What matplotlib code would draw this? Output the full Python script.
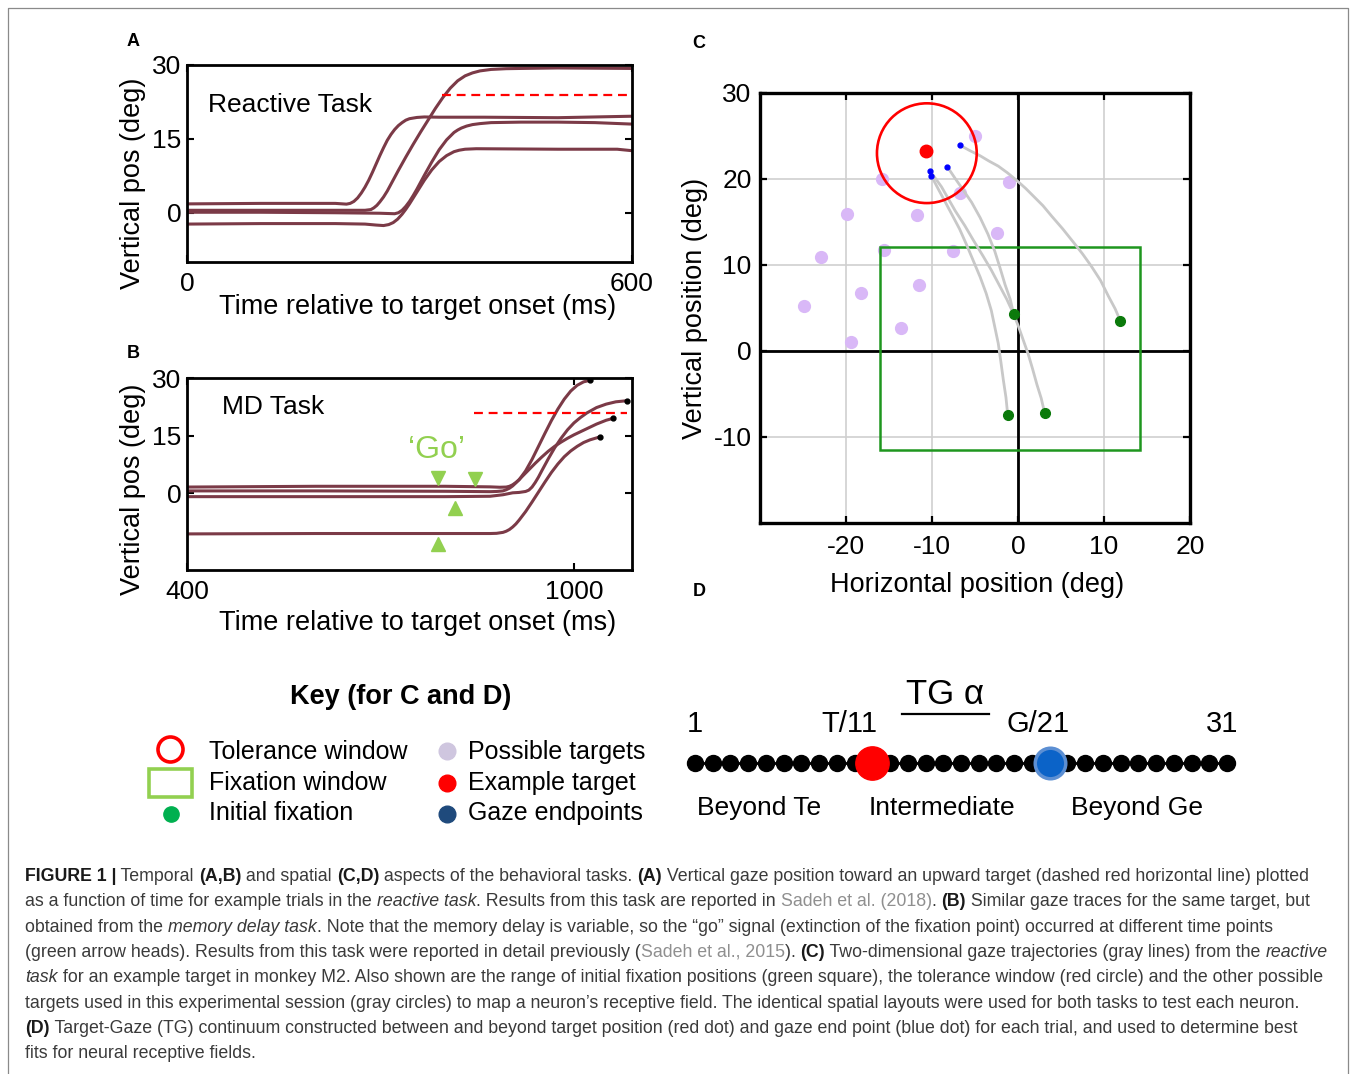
import numpy as np
import matplotlib
matplotlib.use("Agg")
import matplotlib.pyplot as plt
from matplotlib.patches import Circle, Rectangle
from matplotlib.font_manager import FontProperties

plt.rcParams['font.family'] = ['Liberation Sans', 'DejaVu Sans']
plt.rcParams['axes.unicode_minus'] = False

W, H = 1354, 1074

# ---------------- Panel A data (time ms, vertical deg) ----------------
A_t1 = [0, 100, 200, 210, 215, 220, 225, 230, 235, 240, 245, 250, 255, 260, 265, 270, 275, 280, 285, 290, 295, 300, 310, 320, 340, 400, 500, 600]
A_y1 = [1.8, 1.9, 1.9, 1.8, 1.75, 1.9, 2.3, 3.0, 4.0, 5.2, 6.6, 8.2, 9.9, 11.6, 13.2, 14.7, 15.9, 16.9, 17.7, 18.3, 18.8, 19.1, 19.35, 19.45, 19.4, 19.4, 19.3, 19.6]
A_t2 = [0, 100, 200, 240, 248, 252, 256, 260, 265, 270, 275, 285, 295, 305, 315, 325, 335, 345, 355, 365, 375, 385, 395, 410, 430, 450, 500, 600]
A_y2 = [0.5, 0.5, 0.5, 0.5, 0.65, 1.0, 1.5, 2.2, 3.2, 4.4, 5.8, 8.6, 11.3, 13.9, 16.4, 18.8, 21.2, 23.4, 25.3, 26.8, 27.8, 28.4, 28.8, 29.1, 29.25, 29.3, 29.4, 29.3]
A_t3 = [0, 100, 200, 260, 270, 280, 285, 290, 295, 300, 305, 310, 320, 330, 340, 350, 360, 365, 370, 377, 385, 395, 410, 450, 500, 550, 600]
A_y3 = [0.1, 0.1, 0.0, -0.1, -0.15, -0.2, 0.0, 0.5, 1.3, 2.3, 3.5, 4.8, 7.6, 10.3, 12.8, 14.8, 16.3, 16.8, 17.2, 17.6, 17.9, 18.1, 18.3, 18.4, 18.4, 18.3, 18.0]
A_t4 = [0, 100, 200, 240, 255, 265, 272, 278, 284, 290, 295, 300, 310, 320, 330, 340, 350, 355, 360, 367, 375, 390, 500, 580, 600]
A_y4 = [-2.3, -2.2, -2.2, -2.3, -2.5, -2.6, -2.4, -2.0, -1.3, -0.3, 0.7, 1.8, 4.2, 6.6, 8.7, 10.4, 11.6, 12.0, 12.4, 12.7, 12.9, 13.0, 12.9, 12.9, 12.6]
A_target_y = 24.0
A_target_t = [344, 600]

# ---------------- Panel B data ----------------
B_t1 = [400, 600, 800, 870, 885, 895, 900, 905, 910, 915, 925, 935, 945, 955, 965, 975, 985, 995, 1005, 1015, 1025]
B_y1 = [1.6, 1.8, 1.8, 1.65, 1.55, 1.6, 1.8, 2.2, 2.8, 3.5, 5.8, 8.8, 12.2, 15.6, 18.9, 21.9, 24.5, 26.6, 28.1, 29.0, 29.4]
B_t2 = [400, 600, 800, 870, 880, 890, 895, 900, 905, 910, 920, 930, 940, 950, 960, 970, 980, 990, 1000, 1010, 1020, 1035, 1050, 1061]
B_y2 = [0.6, 0.6, 0.5, 0.4, 0.45, 0.6, 0.9, 1.3, 1.9, 2.7, 4.4, 6.1, 7.8, 9.4, 10.9, 12.2, 13.3, 14.3, 15.2, 16.0, 16.8, 18.0, 19.0, 19.5]
B_t3 = [400, 600, 800, 870, 890, 905, 915, 925, 930, 935, 940, 945, 950, 960, 970, 980, 990, 1000, 1010, 1020, 1035, 1050, 1065, 1083]
B_y3 = [-0.9, -0.9, -0.9, -0.8, -0.4, 0.1, 0.2, 0.45, 0.8, 1.6, 2.8, 4.2, 5.8, 8.9, 11.8, 14.3, 16.5, 18.3, 19.7, 20.9, 22.3, 23.2, 23.8, 24.1]
B_t4 = [400, 600, 800, 870, 880, 890, 895, 900, 905, 910, 915, 925, 935, 945, 955, 965, 975, 985, 995, 1005, 1015, 1025, 1041]
B_y4 = [-10.6, -10.5, -10.5, -10.5, -10.45, -10.2, -9.9, -9.45, -8.8, -8.0, -7.0, -4.8, -2.3, 0.3, 2.9, 5.4, 7.6, 9.5, 11.0, 12.2, 13.2, 13.9, 14.7]
B_target_y = 21.0
B_target_t = [845, 1083]
go_t = [789, 847, 815, 789]
go_y = [4.0, 3.7, -3.8, -13.3]
go_marker = ['v', 'v', '^', '^']

# ---------------- Panel C data (deg) ----------------
targets_x = [-5.0, -1.0, -15.8, -6.7, -19.9, -11.7, -2.5, -22.9, -15.6, -7.6, -11.5, -18.3, -24.9, -13.6, -19.4]
targets_y = [25.0, 19.6, 20.0, 18.4, 15.9, 15.8, 13.7, 10.9, 11.7, 11.6, 7.7, 6.8, 5.2, 2.7, 1.0]
example_target = (-10.7, 23.2)
tol_center = (-10.6, 23.0)
tol_radius = 5.8
fix_window_x = (-16.0, 14.2)
fix_window_y = (-11.5, 12.1)
traj1_x = [11.9, 11.3, 10.5, 9.6, 8.5, 7.5, 6.4, 5.2, 3.9, 2.9, 1.8, 0.9, 0.0, -1.2, -2.3, -3.4, -4.4, -5.6, -6.7]
traj1_y = [3.5, 4.9, 6.4, 8.2, 9.9, 11.3, 12.7, 14.2, 15.7, 16.9, 18.0, 18.9, 19.7, 20.7, 21.5, 22.1, 22.7, 23.3, 23.9]
traj2_x = [-0.5, -0.9, -1.5, -2.1, -2.7, -3.5, -4.4, -5.4, -6.5, -7.4, -8.2]
traj2_y = [4.25, 6.0, 7.7, 9.7, 11.6, 13.6, 15.5, 17.3, 18.9, 20.2, 21.4]
traj3_x = [-1.2, -1.4, -1.7, -2.0, -2.3, -2.7, -3.1, -3.7, -4.4, -5.2, -6.0, -6.8, -7.7, -8.5, -9.2, -10.1]
traj3_y = [-7.4, -5.4, -3.4, -1.2, 0.9, 2.8, 4.7, 6.7, 8.6, 10.5, 12.4, 14.2, 15.9, 17.4, 18.7, 20.4]
traj4_x = [3.1, 2.7, 2.2, 1.7, 1.2, 0.6, 0.0, -0.6, -1.3, -2.2, -3.1, -4.1, -5.2, -6.2, -7.3, -8.1, -8.9, -10.2]
traj4_y = [-7.2, -5.5, -3.9, -2.1, -0.4, 1.3, 3.0, 4.5, 6.0, 7.7, 9.4, 11.1, 12.9, 14.6, 16.3, 17.7, 19.1, 20.9]
gaze_x = [-6.7, -8.2, -10.2, -10.1]
gaze_y = [23.9, 21.4, 20.9, 20.4]
fix_x = [11.9, -0.5, -1.2, 3.1]
fix_y = [3.5, 4.25, -7.4, -7.2]

# ---------------- Panel D data ----------------
D_pos = list(range(1, 32))
D_target = 11
D_gaze = 21
D_labels = {1: "1", 11: "T/11", 21: "G/21", 31: "31"}

# ---------------- Caption ----------------
caption = [
    [("FIGURE 1 |", 'b'), (" Temporal ", 'n'), ("(A,B)", 'b'), (" and spatial ", 'n'), ("(C,D)", 'b'),
     (" aspects of the behavioral tasks. ", 'n'), ("(A)", 'b'),
     (" Vertical gaze position toward an upward target (dashed red horizontal line) plotted", 'n')],
    [("as a function of time for example trials in the ", 'n'), ("reactive task", 'i'),
     (". Results from this task are reported in ", 'n'), ("Sadeh et al. (2018)", 'g'), (". ", 'n'),
     ("(B)", 'b'), (" Similar gaze traces for the same target, but", 'n')],
    [("obtained from the ", 'n'), ("memory delay task", 'i'),
     (". Note that the memory delay is variable, so the \u201cgo\u201d signal (extinction of the fixation point) occurred at different time points", 'n')],
    [("(green arrow heads). Results from this task were reported in detail previously (", 'n'),
     ("Sadeh et al., 2015", 'g'), ("). ", 'n'), ("(C)", 'b'),
     (" Two-dimensional gaze trajectories (gray lines) from the ", 'n'), ("reactive", 'i')],
    [("task", 'i'), (" for an example target in monkey M2. Also shown are the range of initial fixation positions (green square), the tolerance window (red circle) and the other possible", 'n')],
    [("targets used in this experimental session (gray circles) to map a neuron\u2019s receptive field. The identical spatial layouts were used for both tasks to test each neuron.", 'n')],
    [("(D)", 'b'), (" Target-Gaze (TG) continuum constructed between and beyond target position (red dot) and gaze end point (blue dot) for each trial, and used to determine best", 'n')],
    [("fits for neural receptive fields.", 'n')],
]

TRACE = '#7b3a47'
GO_GREEN = '#92d050'

fig = plt.figure(figsize=(W / 100, H / 100), dpi=100)


def px_ax(l, t, r, b):
    return fig.add_axes([l / W, 1 - b / H, (r - l) / W, (b - t) / H])


def style_ab(ax):
    for s in ax.spines.values():
        s.set_linewidth(2.0)
    ax.tick_params(direction='in', length=5, width=1.5, top=True, right=True, labelsize=19)
    ax.tick_params(axis='x', pad=7)
    ax.tick_params(axis='y', pad=4)


# ---------- Panel A ----------
axA = px_ax(187, 65, 632, 262)
for t, y in [(A_t1, A_y1), (A_t2, A_y2), (A_t3, A_y3), (A_t4, A_y4)]:
    axA.plot(t, y, color=TRACE, lw=2.2, solid_capstyle='round', solid_joinstyle='round')
axA.plot(A_target_t, [A_target_y] * 2, color='red', lw=1.6, dashes=(4, 2.6))
axA.set_xlim(0, 600)
axA.set_ylim(-10, 30)
axA.set_xticks([0, 600])
axA.set_yticks([0, 15, 30])
style_ab(axA)
axA.set_xlabel("Time relative to target onset (ms)", fontsize=19.5, va='center')
axA.xaxis.set_label_coords(0.519, -0.228)
axA.set_ylabel("Vertical pos (deg)", fontsize=19.5, va='center')
axA.yaxis.set_label_coords(-0.121, 0.40)

# ---------- Panel B ----------
axB = px_ax(187, 378, 632, 570)
for t, y in [(B_t1, B_y1), (B_t2, B_y2), (B_t3, B_y3), (B_t4, B_y4)]:
    axB.plot(t, y, color=TRACE, lw=2.2, solid_capstyle='round', solid_joinstyle='round')
    axB.plot([t[-1]], [y[-1]], 'o', color='black', ms=3.5)
axB.plot(B_target_t, [B_target_y] * 2, color='red', lw=1.6, dashes=(4, 2.6))
for t, y, m in zip(go_t, go_y, go_marker):
    axB.plot([t], [y], marker=m, color=GO_GREEN, ms=10, ls='none')
axB.set_xlim(400, 1090)
axB.set_ylim(-20, 30)
axB.set_xticks([400, 1000])
axB.set_yticks([0, 15, 30])
style_ab(axB)
axB.set_xlabel("Time relative to target onset (ms)", fontsize=19.5, va='center')
axB.xaxis.set_label_coords(0.519, -0.275)
axB.set_ylabel("Vertical pos (deg)", fontsize=19.5, va='center')
axB.yaxis.set_label_coords(-0.121, 0.42)

# ---------- Panel C ----------
axC = px_ax(760, 93, 1190, 523)
axC.set_xlim(-30, 20)
axC.set_ylim(-20, 30)
axC.set_xticks([-20, -10, 0, 10, 20])
axC.set_yticks([-10, 0, 10, 20, 30])
axC.grid(True, color='#cfcfcf', lw=1.2)
axC.set_axisbelow(True)
axC.axhline(0, color='black', lw=2.0, zorder=1.5)
axC.axvline(0, color='black', lw=2.0, zorder=1.5)
for s in axC.spines.values():
    s.set_linewidth(2.4)
axC.tick_params(direction='in', length=5, width=1.6, top=True, right=True, labelsize=19)
axC.tick_params(axis='x', pad=9)
axC.tick_params(axis='y', pad=6)
axC.plot(targets_x, targets_y, 'o', color='#d9b8f7', ms=8.5, ls='none', zorder=2)
axC.add_patch(Rectangle((fix_window_x[0], fix_window_y[0]), fix_window_x[1] - fix_window_x[0],
                        fix_window_y[1] - fix_window_y[0], fill=False, ec='#1e961e', lw=1.8, zorder=3))
for tx, ty in [(traj1_x, traj1_y), (traj2_x, traj2_y), (traj3_x, traj3_y), (traj4_x, traj4_y)]:
    axC.plot(tx, ty, color='#c8c8c8', lw=2.0, zorder=3, solid_capstyle='round', solid_joinstyle='round')
axC.add_patch(Circle(tol_center, tol_radius, fill=False, ec='red', lw=1.9, zorder=4))
axC.plot([example_target[0]], [example_target[1]], 'o', color='red', ms=9, zorder=5)
axC.plot(gaze_x, gaze_y, 'o', color='#0000ff', ms=3.5, ls='none', zorder=5)
axC.plot(fix_x, fix_y, 'o', color='#0b7a0b', ms=7, ls='none', zorder=5)
axC.set_xlabel("Horizontal position (deg)", fontsize=19.5, va='center')
axC.xaxis.set_label_coords(0.505, -0.144)
axC.set_ylabel("Vertical position (deg)", fontsize=19.5, va='center')
axC.yaxis.set_label_coords(-0.151, 0.5)

# ---------- Panel D ----------
axD = px_ax(695, 753, 1227, 773)
axD.set_xlim(1, 31)
axD.set_ylim(-1, 1)
axD.axis('off')
axD.plot(D_pos, [0] * len(D_pos), color='black', lw=2.0, marker='o', ms=11.5, clip_on=False)
axD.plot([D_target], [0], 'o', color='#ff0000', ms=24, clip_on=False, zorder=4)
axD.plot([D_gaze], [0], 'o', mfc='#0b63c8', mec='#5c8fd3', mew=2.5, ms=22, clip_on=False, zorder=4)

# ---------- Overlay (pixel coordinates) ----------
over = fig.add_axes([0, 0, 1, 1])
over.set_xlim(0, W)
over.set_ylim(H, 0)
over.axis('off')
over.set_zorder(10)
over.patch.set_visible(False)

# border
over.plot([8, 8, 1348, 1348], [H + 5, 8, 8, H + 5], color='#8a8a8a', lw=0.9, clip_on=False)

for lbl, x, y in [('A', 133, 42), ('B', 133, 353), ('C', 699, 44), ('D', 699, 592)]:
    over.text(x, y, lbl, fontsize=13, weight='bold', ha='center', va='center')

over.text(208, 105, "Reactive Task", fontsize=19, ha='left', va='center')
over.text(222, 407, "MD Task", fontsize=19, ha='left', va='center')
over.text(437, 450, "\u2018Go\u2019", fontsize=23, color=GO_GREEN, ha='center', va='center')

# key
over.text(401, 697, "Key (for C and D)", fontsize=19.5, weight='bold', ha='center', va='center')
over.plot([170], [749], 'o', mfc='none', mec='red', mew=2.6, ms=18)
over.add_patch(Rectangle((149, 769), 43, 28, fill=False, ec=GO_GREEN, lw=2.6))
over.plot([171], [814], 'o', color='#00b050', ms=11)
over.plot([447], [751], 'o', color='#cfc6df', ms=12)
over.plot([447], [783], 'o', color='#ff0000', ms=12)
over.plot([447], [814], 'o', color='#1f4a7c', ms=12)
for s, x, y in [("Tolerance window", 209, 752), ("Fixation window", 209, 783), ("Initial fixation", 209, 813),
                ("Possible targets", 468, 752), ("Example target", 468, 783), ("Gaze endpoints", 468, 813)]:
    over.text(x, y, s, fontsize=18, ha='left', va='center')

# panel D texts
for pos, x in zip([1, 11, 21, 31], [695, 849, 1038, 1222]):
    over.text(x, 724, D_labels[pos], fontsize=21, ha='center', va='center')
over.text(945, 694, "TG \u03b1", fontsize=25, ha='center', va='center')
over.plot([902, 989], [714, 714], color='black', lw=1.6)
over.text(759, 808, "Beyond Te", fontsize=19, ha='center', va='center')
over.text(942, 808, "Intermediate", fontsize=19, ha='center', va='center')
over.text(1137, 808, "Beyond Ge", fontsize=19, ha='center', va='center')

# caption
renderer = fig.canvas.get_renderer()


def fprops(style, size):
    if style == 'b':
        return FontProperties(family='Liberation Sans', size=size, weight='bold')
    if style == 'i':
        return FontProperties(family='Liberation Sans', size=size, style='italic')
    return FontProperties(family='Liberation Sans', size=size)


def run_w(s, fp):
    w1 = renderer.get_text_width_height_descent('x' + s + 'x', fp, ismath=False)[0]
    w0 = renderer.get_text_width_height_descent('xx', fp, ismath=False)[0]
    return w1 - w0


base = 12.0
fit_targets = {0: 1305.0, 3: 1308.0, 4: 1312.0}
scales = []
for li, target in fit_targets.items():
    w_line = sum(run_w(s, fprops(st, base)) for s, st in caption[li])
    scales.append(target / w_line)
csize = base * min(scales)
colors = {'n': '#3a3a3a', 'b': '#1a1a1a', 'i': '#3a3a3a', 'g': '#8f8f8f'}
y0 = 881
for i, line in enumerate(caption):
    x = 25
    y = y0 + i * 25.3
    for s, st in line:
        fp = fprops(st, csize)
        over.text(x, y, s, fontproperties=fp, color=colors[st], ha='left', va='baseline')
        x += run_w(s, fp)

fig.savefig("out.png", dpi=100)
